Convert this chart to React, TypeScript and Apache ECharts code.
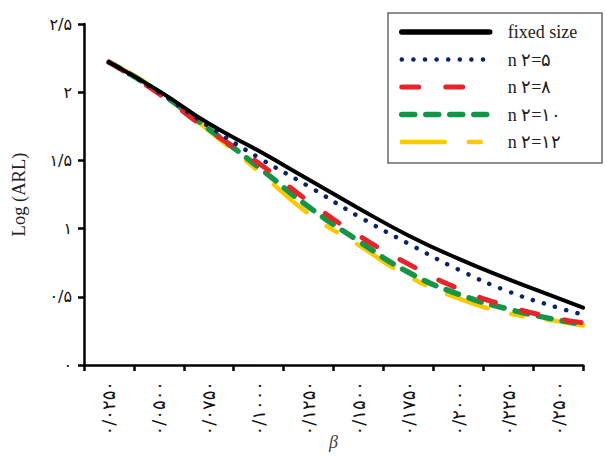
import React, { useEffect, useRef } from "react";
import * as echarts from "echarts";

const xLabels = ["۰/۰۲۵۰", "۰/۰۵۰۰", "۰/۰۷۵۰", "۰/۱۰۰۰", "۰/۱۲۵۰", "۰/۱۵۰۰", "۰/۱۷۵۰", "۰/۲۰۰۰", "۰/۲۲۵۰", "۰/۲۵۰۰"];
const yTickLabels = ["۰", "۰/۵", "۱", "۱/۵", "۲", "۲/۵"];
const betaPoints = [0.025, 0.05, 0.075, 0.1, 0.125, 0.15, 0.175, 0.2, 0.225, 0.25, 0.2625];
const seriesNames = ["fixed size", "n ۲=۵", "n ۲=۸", "n ۲=۱۰", "n ۲=۱۲"];
const fixedSize = [2.22, 2.01, 1.77, 1.57, 1.36, 1.15, 0.95, 0.78, 0.63, 0.49, 0.42];
const n5 = [2.22, 2.0, 1.75, 1.52, 1.31, 1.09, 0.89, 0.7, 0.54, 0.42, 0.37];
const n8 = [2.22, 1.99, 1.72, 1.48, 1.2, 0.95, 0.74, 0.56, 0.43, 0.34, 0.31];
const n10 = [2.22, 2.0, 1.73, 1.45, 1.16, 0.91, 0.68, 0.52, 0.41, 0.33, 0.3];
const n12 = [2.22, 2.01, 1.72, 1.42, 1.11, 0.88, 0.65, 0.49, 0.38, 0.32, 0.29];

const seriesValues = [fixedSize, n5, n8, n10, n12];
const colors = ["#000000", "#0c2466", "#e3262b", "#169447", "#fcc800"];
const widths = [4, 4.5, 5, 5.5, 4.5];
const dashes: any[] = ["solid", [0.1, 11.5], [17, 27], [13, 11], [43, 24, 12, 24]];
const zs = [7, 6, 5, 4, 3];

const SERIF = "'Times New Roman', 'Liberation Serif', 'DejaVu Serif', serif";
const DIGITS = "'DejaVu Sans', 'Noto Sans', sans-serif";

export default function App() {
  const ref = useRef<HTMLDivElement>(null);
  useEffect(() => {
    const chart = echarts.init(ref.current!, null, { renderer: "svg" });
    const option: any = {
      animation: false,
      backgroundColor: "#ffffff",
      grid: { left: 84, right: 24, top: 24, bottom: 92, outerBoundsMode: "none", containLabel: false },
      xAxis: [
        {
          type: "category",
          data: xLabels,
          boundaryGap: true,
          name: "β",
          nameLocation: "middle",
          nameGap: 68,
          nameMoveOverlap: false,
          nameTextStyle: { fontFamily: SERIF, fontStyle: "italic", fontSize: 18, color: "#444" },
          axisLine: { lineStyle: { color: "#000", width: 2.5 } },
          axisTick: { show: true, length: 6, lineStyle: { color: "#000", width: 2.5 } },
          axisLabel: { rotate: 90, margin: 16, fontSize: 18, color: "#111", fontFamily: DIGITS },
          splitLine: { show: false },
        },
        {
          type: "value",
          min: 0.0125,
          max: 0.2625,
          show: false,
          splitLine: { show: false },
        },
      ],
      yAxis: {
        type: "value",
        min: 0,
        max: 2.5,
        interval: 0.5,
        name: "Log (ARL)",
        nameLocation: "middle",
        nameGap: 56,
        nameMoveOverlap: false,
        nameRotate: 90,
        nameTextStyle: { fontFamily: SERIF, fontSize: 18.5, color: "#222" },
        axisLine: { show: true, lineStyle: { color: "#000", width: 2.5 } },
        axisTick: { show: true, length: 6, lineStyle: { color: "#000", width: 2.5 } },
        axisLabel: {
          margin: 12,
          fontSize: 16,
          color: "#111",
          fontFamily: DIGITS,
          formatter: (v: number) => yTickLabels[Math.round(v / 0.5)],
        },
        splitLine: { show: false },
      },
      legend: {
        orient: "vertical",
        left: 399,
        top: 23,
        padding: 0,
        itemWidth: 88,
        itemHeight: 14,
        itemGap: 9.5,
        selectedMode: false,
        textStyle: { fontFamily: SERIF, fontSize: 18, color: "#222", padding: [0, 0, 0, 13] },
        data: seriesNames.map((n, i) => ({
          name: n,
          itemStyle: { color: "rgba(0,0,0,0)", borderColor: "rgba(0,0,0,0)", borderWidth: 0, opacity: 0 },
          lineStyle: { color: colors[i], width: i === 0 ? 5.5 : widths[i], type: dashes[i], cap: "round", opacity: 1 },
        })),
      },
      graphic: [
        {
          type: "rect",
          shape: { x: 388, y: 13, width: 214, height: 150 },
          style: { fill: "none", stroke: "#6a6a6a", lineWidth: 1.5 },
          z: 10,
        },
      ],
      series: seriesValues.map((vals, i) => ({
        name: seriesNames[i],
        type: "line",
        xAxisIndex: 1,
        data: betaPoints.map((b, j) => [b, vals[j]]),
        symbol: "none",
        smooth: 0.5,
        z: zs[i],
        lineStyle: { color: colors[i], width: widths[i], type: dashes[i], cap: "round", join: "round" },
        itemStyle: { color: colors[i] },
      })),
    };
    chart.setOption(option);
    return () => chart.dispose();
  }, []);
  return (
    <div
      ref={ref}
      style={{ position: "fixed", left: 0, top: 0, width: 607, height: 457, background: "#fff" }}
    />
  );
}
